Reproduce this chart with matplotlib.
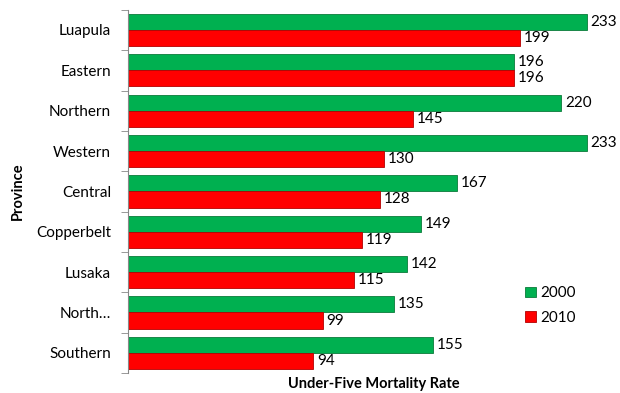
import numpy as np
import matplotlib
matplotlib.use("Agg")
import matplotlib.pyplot as plt
from matplotlib.ticker import FixedLocator, NullFormatter

provinces = ["Luapula", "Eastern", "Northern", "Western", "Central",
             "Copperbelt", "Lusaka", "North\u2026", "Southern"]
u5mr_2000 = [233, 196, 220, 233, 167, 149, 142, 135, 155]
u5mr_2010 = [199, 196, 145, 130, 128, 119, 115, 99, 94]
series_names = ["2000", "2010"]

GREEN = "#00B050"
RED = "#FF0000"

plt.rcParams["font.family"] = ["Lato", "DejaVu Sans"]
plt.rcParams["font.size"] = 11

fig = plt.figure(figsize=(6.2, 3.93), dpi=100)
ax = fig.add_axes([0.206, 0.051, 0.794, 0.924])

y = np.arange(len(provinces))
h = 0.4
b1 = ax.barh(y - h / 2, u5mr_2000, height=h, color=GREEN,
             edgecolor="#0a7a3a", linewidth=0.6, label=series_names[0])
b2 = ax.barh(y + h / 2, u5mr_2010, height=h, color=RED,
             edgecolor="#b30000", linewidth=0.6, label=series_names[1])

for bars, vals in ((b1, u5mr_2000), (b2, u5mr_2010)):
    for bar, v in zip(bars, vals):
        ax.text(bar.get_width() + 2, bar.get_y() + bar.get_height() / 2,
                f"{v}", ha="left", va="center", fontsize=11, color="#000")

ax.set_ylim(len(provinces) - 0.5, -0.5)
ax.set_xlim(0, 250)
ax.set_yticks(y)
ax.set_yticklabels(provinces)
ax.yaxis.set_minor_locator(FixedLocator(np.arange(-0.5, len(provinces), 1.0)))
ax.yaxis.set_minor_formatter(NullFormatter())
ax.tick_params(axis="y", which="major", length=0, pad=12)
ax.tick_params(axis="y", which="minor", length=5, color="#888888")
ax.set_xticks([])
for s in ("top", "right", "bottom"):
    ax.spines[s].set_visible(False)
ax.spines["left"].set_color("#888888")

ax.set_ylabel("Province", fontweight="bold", fontsize=10.5, labelpad=8)
ax.set_xlabel("Under-Five Mortality Rate", fontweight="bold", fontsize=10.5,
              labelpad=3)

fig.legend(handles=[b1, b2], loc="center left",
           bbox_to_anchor=(0.825, 0.222), frameon=False,
           handlelength=0.7, handleheight=0.7, handletextpad=0.3,
           labelspacing=0.7, fontsize=11)

fig.savefig("out.png", dpi=100)
